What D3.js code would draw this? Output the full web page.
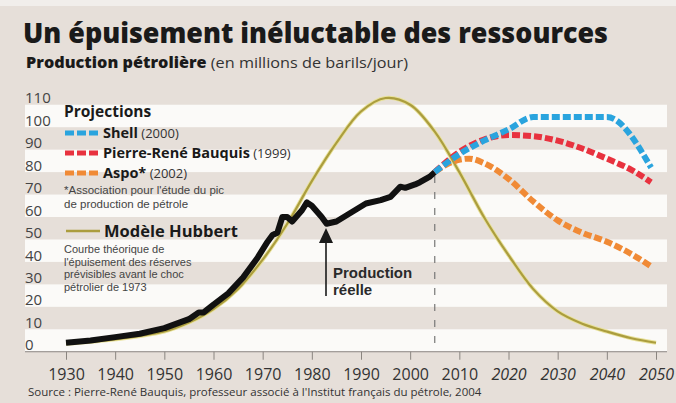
<!DOCTYPE html>
<html>
<head>
<meta charset="utf-8">
<script src="https://cdn.jsdelivr.net/npm/d3@7"></script>
<style>
  html, body { margin: 0; padding: 0; background: #e6dfd9; }
  svg { display: block; font-family: "Open Sans", "Noto Sans", sans-serif; }
</style>
</head>
<body>
<div id="chart"></div>
<script>
// production reelle (millions de barils/jour)
const prodYears  = [1930,1935,1940,1945,1950,1955,1957,1958,1960,1963,1966,1969,1971,1972,1973,1974,1975,1976,1978,1979,1980,1982,1983,1985,1988,1991,1994,1996,1998,1999,2001,2002,2004,2005];
const prodValues = [1,2,3.5,5,7.5,11.5,14.5,14.5,18,23,30,39,46,49,50,57,57,55,60,63.5,62,57,54,55,59,63,64.5,66,70.5,70,71.5,72.5,75,77];

// modele Hubbert
const hubYears  = [1930,1940,1950,1955,1960,1965,1970,1975,1980,1985,1990,1995,2000,2005,2010,2015,2020,2025,2030,2035,2040,2045,2050];
const hubValues = [0.5,2.5,6,10,16,25,38,54,73,90,104,110,107,95,77,57,40,25,15,9.5,6,3,1];

// projections
const shellYears  = [2005,2010,2015,2020,2025,2030,2035,2040,2049];
const shellValues = [77,85,91,96,101.5,101.5,101.5,101.5,79];
const bauqYears   = [2005,2010,2015,2020,2025,2030,2035,2040,2045,2049];
const bauqValues  = [77,86,91.5,93.5,93,91,87.5,83,78,72.5];
const aspoYears   = [2005,2008,2012,2015,2020,2025,2030,2035,2040,2045,2049];
const aspoValues  = [77,81,83,81,74,64,55.5,50,46,40.5,35];

const yTicks = [0,10,20,30,40,50,60,70,80,90,100,110];
const xTicks = [1930,1940,1950,1960,1970,1980,1990,2000,2010,2020,2030,2040,2050];

const W = 676, H = 403;
const svg = d3.select("#chart").append("svg").attr("width", W).attr("height", H);

// fond
svg.append("rect").attr("width", W).attr("height", H).attr("fill", "#e6dfd9");
svg.append("rect").attr("width", W).attr("height", 6).attr("fill", "#f1eeeb");

const x = d3.scaleLinear().domain([1930, 2050]).range([66, 656]);
const y = d3.scaleLinear().domain([0, 110]).range([345, 98]);
const bandLeft = 25, bandRight = 667;

// bandes blanches
svg.append("g").selectAll("rect")
  .data(yTicks.filter(d => d % 20 === 0))
  .enter().append("rect")
  .attr("x", bandLeft)
  .attr("width", bandRight - bandLeft)
  .attr("y", d => y(d + 7))
  .attr("height", d => y(d - 3) - y(d + 7))
  .attr("fill", "#fbfaf8");

// titre
svg.append("text").attr("x", 23).attr("y", 43)
  .attr("font-size", 29).attr("font-weight", 800).attr("fill", "#1a1a1a")
  .attr("textLength", 585).attr("lengthAdjust", "spacingAndGlyphs")
  .text("Un épuisement inéluctable des ressources");

const sub = svg.append("text").attr("x", 26).attr("y", 68).attr("font-size", 15).attr("fill", "#1a1a1a")
  .attr("textLength", 382).attr("lengthAdjust", "spacingAndGlyphs");
sub.append("tspan").attr("font-weight", 800).text("Production pétrolière ");
sub.append("tspan").attr("fill", "#333").text("(en millions de barils/jour)");

// axe des x
const axisY = y(-3);
svg.append("line").attr("x1", bandLeft).attr("x2", bandRight)
  .attr("y1", axisY).attr("y2", axisY).attr("stroke", "#8a8580").attr("stroke-width", 1);

const xAxis = svg.append("g").attr("transform", `translate(0,${axisY})`)
  .call(d3.axisBottom(x).tickValues(xTicks).tickSize(8).tickPadding(9).tickFormat(d3.format("d")));
xAxis.select(".domain").remove();
xAxis.selectAll(".tick line").attr("stroke", "#8a8580");
xAxis.selectAll(".tick text")
  .attr("font-size", 16).attr("fill", "#333")
  .attr("font-family", "'Open Sans', sans-serif")
  .attr("font-style", d => d >= 2020 ? "italic" : "normal");

// axe des y (libelles seulement)
svg.append("g").selectAll("text")
  .data(yTicks).enter().append("text")
  .attr("x", 25).attr("y", d => y(d)).attr("dy", "0.36em")
  .attr("font-size", 15).attr("fill", "#444")
  .text(d => d);

// ligne verticale 2005
svg.append("line").attr("x1", x(2005)).attr("x2", x(2005))
  .attr("y1", y(77) + 4).attr("y2", axisY)
  .attr("stroke", "#777").attr("stroke-width", 1.2).attr("stroke-dasharray", "7,9");

const line = d3.line().x(d => x(d[0])).y(d => y(d[1]));
const zip = (a, b) => a.map((v, i) => [v, b[i]]);

// Hubbert
svg.append("path").datum(zip(hubYears, hubValues))
  .attr("d", line.curve(d3.curveCatmullRom.alpha(0.5)))
  .attr("fill", "none").attr("stroke", "#e8e19a").attr("stroke-width", 4);
svg.append("path").datum(zip(hubYears, hubValues))
  .attr("d", line.curve(d3.curveCatmullRom.alpha(0.5)))
  .attr("fill", "none").attr("stroke", "#ab9d3e").attr("stroke-width", 2.2);

// production reelle
svg.append("path").datum(zip(prodYears, prodValues))
  .attr("d", line.curve(d3.curveLinear))
  .attr("fill", "none").attr("stroke", "#111").attr("stroke-width", 6)
  .attr("stroke-linejoin", "round").attr("stroke-linecap", "butt");

// projections
const proj = [
  {years: aspoYears, values: aspoValues, color: "#f08a36"},
  {years: bauqYears, values: bauqValues, color: "#e8323f"},
  {years: shellYears, values: shellValues, color: "#2aa4de"}
];
proj.forEach(p => {
  svg.append("path").datum(zip(p.years, p.values))
    .attr("d", line.curve(d3.curveMonotoneX))
    .attr("fill", "none").attr("stroke", p.color).attr("stroke-width", 6)
    .attr("stroke-dasharray", "8,3");
});

// legende
const leg = svg.append("g");
leg.append("text").attr("x", 64).attr("y", 117).attr("font-size", 15.5).attr("font-weight", 700)
  .attr("fill", "#1a1a1a").text("Projections");

const items = [
  {name: "Shell", year: "(2000)", color: "#2aa4de", yy: 133},
  {name: "Pierre-René Bauquis", year: "(1999)", color: "#e8323f", yy: 153},
  {name: "Aspo*", year: "(2002)", color: "#f08a36", yy: 173}
];
items.forEach(it => {
  leg.append("line").attr("x1", 65).attr("x2", 99).attr("y1", it.yy).attr("y2", it.yy)
    .attr("stroke", it.color).attr("stroke-width", 5).attr("stroke-dasharray", "9,3");
  const t = leg.append("text").attr("x", 103).attr("y", it.yy).attr("dy", "0.36em")
    .attr("font-size", 14.5).attr("fill", "#1a1a1a");
  t.append("tspan").attr("font-weight", 700).text(it.name);
  t.append("tspan").attr("font-size", 13).attr("fill", "#333").text(" " + it.year);
});

// blocs de texte multi-lignes (police a interligne compact)
const smallFont = "'Liberation Sans', Arial, sans-serif";
function block(xx, yy, lines, size, gap, attrs) {
  const t = svg.append("text").attr("x", xx).attr("y", yy).attr("font-size", size);
  Object.keys(attrs).forEach(k => t.attr(k, attrs[k]));
  lines.forEach((s, i) => {
    t.append("tspan").attr("x", xx).attr("dy", i === 0 ? 0 : gap).text(s);
  });
  return t;
}

block(64, 194, ["*Association pour l'étude du pic", "de production de pétrole"], 11.5, 13.5,
  {fill: "#444", "font-family": smallFont});

leg.append("line").attr("x1", 66).attr("x2", 100).attr("y1", 231).attr("y2", 231)
  .attr("stroke", "#ab9d3e").attr("stroke-width", 2.5);
leg.append("text").attr("x", 104).attr("y", 231).attr("dy", "0.36em")
  .attr("font-size", 16.5).attr("font-weight", 700).attr("fill", "#1a1a1a")
  .text("Modèle Hubbert");

block(64, 253, ["Courbe théorique de", "l'épuisement des réserves", "prévisibles avant le choc", "pétrolier de 1973"],
  11, 12.5, {fill: "#444", "font-family": smallFont});

// annotation production reelle
svg.append("line").attr("x1", 326).attr("x2", 326).attr("y1", 240).attr("y2", 296)
  .attr("stroke", "#1a1a1a").attr("stroke-width", 1.6);
svg.append("path").attr("d", "M326,228 L333,243 L319,243 Z").attr("fill", "#1a1a1a");
block(333, 278, ["Production", "réelle"], 15, 17,
  {fill: "#2a2a2a", "font-weight": 700, "font-family": smallFont});

// source
svg.append("text").attr("x", 28).attr("y", 396).attr("font-size", 11.5).attr("fill", "#333")
  .text("Source : Pierre-René Bauquis, professeur associé à l'Institut français du pétrole, 2004");
</script>
</body>
</html>
